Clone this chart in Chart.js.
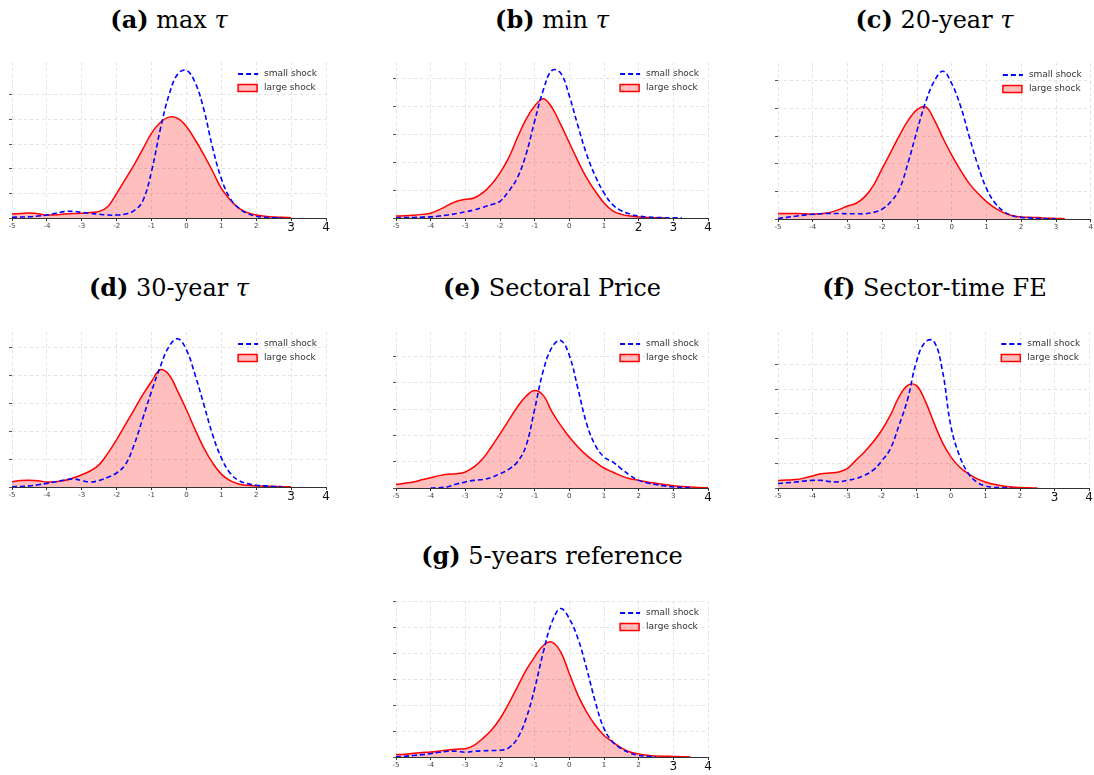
<!DOCTYPE html>
<html>
<head>
<meta charset="utf-8">
<script src="https://cdn.jsdelivr.net/npm/chart.js@4.4.0/dist/chart.umd.min.js"></script>
<style>
  body { margin: 0; background: #fff; width: 1094px; height: 775px; position: relative; overflow: hidden; }
  .title { position: absolute; text-align: center; font-family: "DejaVu Serif", serif; font-size: 24px; line-height: 24px; color: #000; white-space: nowrap; }
  canvas { position: absolute; }
</style>
</head>
<body>
<script>
// x grid shared by all densities
const xs = [-5, -4.75, -4.5, -4.25, -4, -3.75, -3.5, -3.25, -3, -2.75, -2.5, -2.25, -2, -1.75, -1.5, -1.25,
  -1, -0.75, -0.5, -0.25, 0, 0.25, 0.5, 0.75, 1, 1.25, 1.5, 1.75, 2, 2.25, 2.5, 2.75, 3, 3.25, 3.5, 3.75, 4];

const xTicks = [-5, -4, -3, -2, -1, 0, 1, 2, 3, 4];
const seriesNames = ["small shock", "large shock"];

// (a) max tau
const smallA = [0.003, 0.004, 0.005, 0.008, 0.012, 0.019, 0.026, 0.027, 0.023, 0.019, 0.015, 0.012, 0.012, 0.016, 0.03, 0.07,
  0.19, 0.36, 0.5, 0.585, 0.6, 0.55, 0.44, 0.285, 0.16, 0.08, 0.04, 0.018, 0.007, 0.003, 0.001, 0.0];
const largeA = [0.016, 0.018, 0.02, 0.017, 0.012, 0.013, 0.016, 0.018, 0.019, 0.022, 0.027, 0.047, 0.1, 0.158, 0.216, 0.28,
  0.345, 0.388, 0.41, 0.405, 0.372, 0.318, 0.257, 0.19, 0.12, 0.074, 0.04, 0.022, 0.012, 0.007, 0.004, 0.003, 0.001];
// (b) min tau
const smallB = [0.001, 0.002, 0.002, 0.003, 0.004, 0.007, 0.011, 0.016, 0.022, 0.029, 0.038, 0.048, 0.06, 0.096, 0.144, 0.228,
  0.348, 0.46, 0.53, 0.52, 0.438, 0.33, 0.228, 0.15, 0.09, 0.048, 0.026, 0.014, 0.007, 0.004, 0.002, 0.001, 0.001, 0.0];
const largeB = [0.007, 0.008, 0.01, 0.013, 0.017, 0.03, 0.046, 0.06, 0.067, 0.072, 0.09, 0.12, 0.162, 0.216, 0.288, 0.354,
  0.402, 0.428, 0.396, 0.336, 0.27, 0.204, 0.144, 0.096, 0.054, 0.026, 0.013, 0.007, 0.004, 0.002, 0.001, 0.0];
// (c) 20-year tau
const smallC = [0.002, 0.006, 0.01, 0.014, 0.017, 0.019, 0.02, 0.02, 0.019, 0.019, 0.019, 0.024, 0.036, 0.063, 0.11, 0.207,
  0.32, 0.424, 0.5, 0.535, 0.49, 0.41, 0.3, 0.195, 0.11, 0.057, 0.027, 0.012, 0.006, 0.004, 0.002, 0.001, 0.0];
const largeC = [0.02, 0.02, 0.02, 0.019, 0.017, 0.02, 0.024, 0.034, 0.047, 0.057, 0.081, 0.123, 0.183, 0.243, 0.304, 0.358,
  0.396, 0.406, 0.358, 0.292, 0.231, 0.177, 0.129, 0.093, 0.063, 0.039, 0.022, 0.012, 0.007, 0.006, 0.005, 0.003, 0.002, 0.001];
// (d) 30-year tau
const smallD = [0.001, 0.002, 0.004, 0.008, 0.013, 0.019, 0.025, 0.029, 0.023, 0.018, 0.023, 0.035, 0.05, 0.08, 0.151, 0.246,
  0.342, 0.43, 0.502, 0.53, 0.49, 0.4, 0.294, 0.187, 0.104, 0.05, 0.023, 0.012, 0.006, 0.004, 0.002, 0.001];
const largeD = [0.019, 0.023, 0.024, 0.022, 0.018, 0.019, 0.023, 0.032, 0.044, 0.058, 0.08, 0.121, 0.169, 0.223, 0.276, 0.33,
  0.377, 0.419, 0.401, 0.342, 0.276, 0.205, 0.139, 0.086, 0.046, 0.023, 0.011, 0.006, 0.004, 0.003, 0.002, 0.001, 0.001];
// (e) Sectoral Price
const smallE = [null, null, null, null, 0.0, 0.001, 0.005, 0.015, 0.023, 0.029, 0.032, 0.04, 0.054, 0.071, 0.099, 0.16,
  0.3, 0.447, 0.535, 0.561, 0.504, 0.377, 0.244, 0.162, 0.118, 0.099, 0.073, 0.048, 0.029, 0.019, 0.013, 0.008, 0.004, 0.002, 0.001];
const largeE = [0.013, 0.018, 0.023, 0.031, 0.039, 0.047, 0.052, 0.054, 0.061, 0.08, 0.111, 0.156, 0.206, 0.257, 0.308, 0.349,
  0.371, 0.352, 0.289, 0.238, 0.194, 0.156, 0.124, 0.099, 0.076, 0.061, 0.046, 0.035, 0.029, 0.023, 0.018, 0.013, 0.009, 0.006, 0.004, 0.002, 0.001];
// (f) Sector-time FE
const smallF = [0.018, 0.021, 0.024, 0.028, 0.031, 0.031, 0.026, 0.025, 0.031, 0.038, 0.051, 0.072, 0.11, 0.159, 0.254, 0.36,
  0.51, 0.59, 0.596, 0.48, 0.25, 0.13, 0.06, 0.024, 0.008, 0.003, 0.001, 0.0];
const largeF = [0.03, 0.032, 0.034, 0.04, 0.049, 0.058, 0.061, 0.065, 0.078, 0.112, 0.146, 0.186, 0.234, 0.295, 0.369, 0.416,
  0.416, 0.355, 0.268, 0.186, 0.126, 0.085, 0.058, 0.038, 0.024, 0.015, 0.008, 0.004, 0.002, 0.001, 0.0];
// (g) 5-years reference
const smallG = [0.001, 0.003, 0.006, 0.009, 0.013, 0.018, 0.022, 0.022, 0.018, 0.022, 0.024, 0.025, 0.026, 0.035, 0.071, 0.147,
  0.263, 0.404, 0.519, 0.571, 0.532, 0.455, 0.34, 0.212, 0.109, 0.058, 0.032, 0.015, 0.006, 0.003, 0.001];
const largeG = [0.009, 0.011, 0.014, 0.017, 0.019, 0.023, 0.027, 0.03, 0.032, 0.045, 0.071, 0.103, 0.147, 0.205, 0.269, 0.333,
  0.385, 0.429, 0.442, 0.404, 0.321, 0.237, 0.173, 0.122, 0.083, 0.058, 0.035, 0.019, 0.012, 0.007, 0.004, 0.003, 0.002, 0.001, 0.0];

// layout: plot box in page pixels
const panels = [
  { tag: "(a)", name: "max <i>τ</i>", small: smallA, large: largeA, ymax: 0.634, big: [3, 4], box: [12, 326, 62, 218], ty: 8 },
  { tag: "(b)", name: "min <i>τ</i>", small: smallB, large: largeB, ymax: 0.56, big: [2, 3, 4], box: [396, 708, 62, 218], ty: 8 },
  { tag: "(c)", name: "20-year <i>τ</i>", small: smallC, large: largeC, ymax: 0.565, big: [], box: [778, 1091, 63, 219], ty: 8 },
  { tag: "(d)", name: "30-year <i>τ</i>", small: smallD, large: largeD, ymax: 0.554, big: [3, 4], box: [12, 326, 332, 487], ty: 276 },
  { tag: "(e)", name: "Sectoral Price", small: smallE, large: largeE, ymax: 0.593, big: [4], box: [396, 708, 332, 488], ty: 276 },
  { tag: "(f)", name: "Sector-time FE", small: smallF, large: largeF, ymax: 0.632, big: [3, 4], box: [778, 1091, 332, 488], ty: 276 },
  { tag: "(g)", name: "5-years reference", small: smallG, large: largeG, ymax: 0.60, big: [3, 4], box: [396, 708, 601, 757], ty: 544 },
];

function toPoints(vals) {
  const pts = [];
  vals.forEach((v, i) => { if (v !== null && v !== undefined) pts.push({ x: xs[i], y: v }); });
  return pts;
}

// legend drawn inside the plot, top right
const insideLegend = {
  id: "insideLegend",
  afterDraw(chart) {
    const { ctx, chartArea } = chart;
    ctx.save();
    ctx.font = '9px "DejaVu Sans"';
    ctx.textBaseline = "middle";
    ctx.fillStyle = "#333";
    const w = Math.max(...seriesNames.map((n) => ctx.measureText(n).width));
    const tx = chartArea.right - 9 - w;
    const y1 = chartArea.top + 12;
    const y2 = chartArea.top + 26;
    ctx.fillText(seriesNames[0], tx, y1);
    ctx.fillText(seriesNames[1], tx, y2);
    ctx.strokeStyle = "#0000ff";
    ctx.lineWidth = 1.8;
    ctx.setLineDash([5, 3]);
    ctx.beginPath();
    ctx.moveTo(tx - 26, y1);
    ctx.lineTo(tx - 6, y1);
    ctx.stroke();
    ctx.setLineDash([]);
    ctx.fillStyle = "rgba(255, 0, 0, 0.25)";
    ctx.fillRect(tx - 26, y2 - 3.5, 19, 7);
    ctx.strokeStyle = "#ff0000";
    ctx.lineWidth = 1.5;
    ctx.strokeRect(tx - 26, y2 - 3.5, 19, 7);
    ctx.restore();
  },
};

panels.forEach((p) => {
  const [pl, pr, pt, pb] = p.box;
  const padL = 9, padT = 4, xAxisH = 22;
  const cLeft = pl - padL - 3;
  const cRight = Math.min(1094, pr + 12);
  const padR = cRight - pr;
  const isBig = (c) => !!(c && c.tick && p.big.includes(c.tick.value));

  const title = document.createElement("div");
  title.className = "title";
  title.style.left = (pl - 40) + "px";
  title.style.width = (pr - pl + 80) + "px";
  title.style.top = p.ty + "px";
  title.innerHTML = "<b>" + p.tag + "</b> " + p.name;
  document.body.appendChild(title);

  const canvas = document.createElement("canvas");
  canvas.width = cRight - cLeft;
  canvas.height = (pb - pt) + padT + xAxisH;
  canvas.style.left = cLeft + "px";
  canvas.style.top = (pt - padT) + "px";
  document.body.appendChild(canvas);

  new Chart(canvas.getContext("2d"), {
    type: "line",
    data: {
      datasets: [
        {
          label: seriesNames[0],
          data: toPoints(p.small),
          borderColor: "#0000ff",
          borderWidth: 1.6,
          borderDash: [5, 3],
          fill: false,
          pointRadius: 0,
          tension: 0.4,
        },
        {
          label: seriesNames[1],
          data: toPoints(p.large),
          borderColor: "#ff0000",
          backgroundColor: "rgba(255, 0, 0, 0.25)",
          borderWidth: 1.5,
          fill: "origin",
          pointRadius: 0,
          tension: 0.4,
        },
      ],
    },
    options: {
      responsive: false,
      animation: false,
      layout: { padding: { left: padL, right: padR, top: padT, bottom: 0 } },
      scales: {
        x: {
          type: "linear",
          min: -5,
          max: 4,
          afterFit: (axis) => { axis.height = xAxisH; },
          afterBuildTicks: (axis) => { axis.ticks = xTicks.map((v) => ({ value: v })); },
          grid: { color: "#e2e2e2", tickColor: "#333", tickLength: 3, tickBorderDash: [] },
          border: { color: "#333", width: 1, dash: [3, 3] },
          ticks: {
            autoSkip: false,
            maxRotation: 0,
            padding: 1,
            color: (c) => (isBig(c) ? "#111" : "#444"),
            font: (c) => (isBig(c)
              ? { family: "DejaVu Sans", size: 12, lineHeight: 1.0 }
              : { family: "DejaVu Sans", size: 7, lineHeight: 1.2 }),
          },
        },
        y: {
          min: 0,
          max: p.ymax,
          afterFit: (axis) => { axis.width = 3; },
          afterBuildTicks: (axis) => {
            axis.ticks = axis.ticks.filter((t) => Math.abs(t.value * 10 - Math.round(t.value * 10)) < 1e-6);
          },
          grid: { color: "#e2e2e2", tickColor: "#555", tickLength: 3, tickBorderDash: [] },
          border: { display: false, dash: [3, 3] },
          ticks: { stepSize: 0.1, display: false },
        },
      },
      plugins: {
        legend: { display: false },
        tooltip: { enabled: false },
      },
    },
    plugins: [insideLegend],
  });
});
</script>
</body>
</html>
